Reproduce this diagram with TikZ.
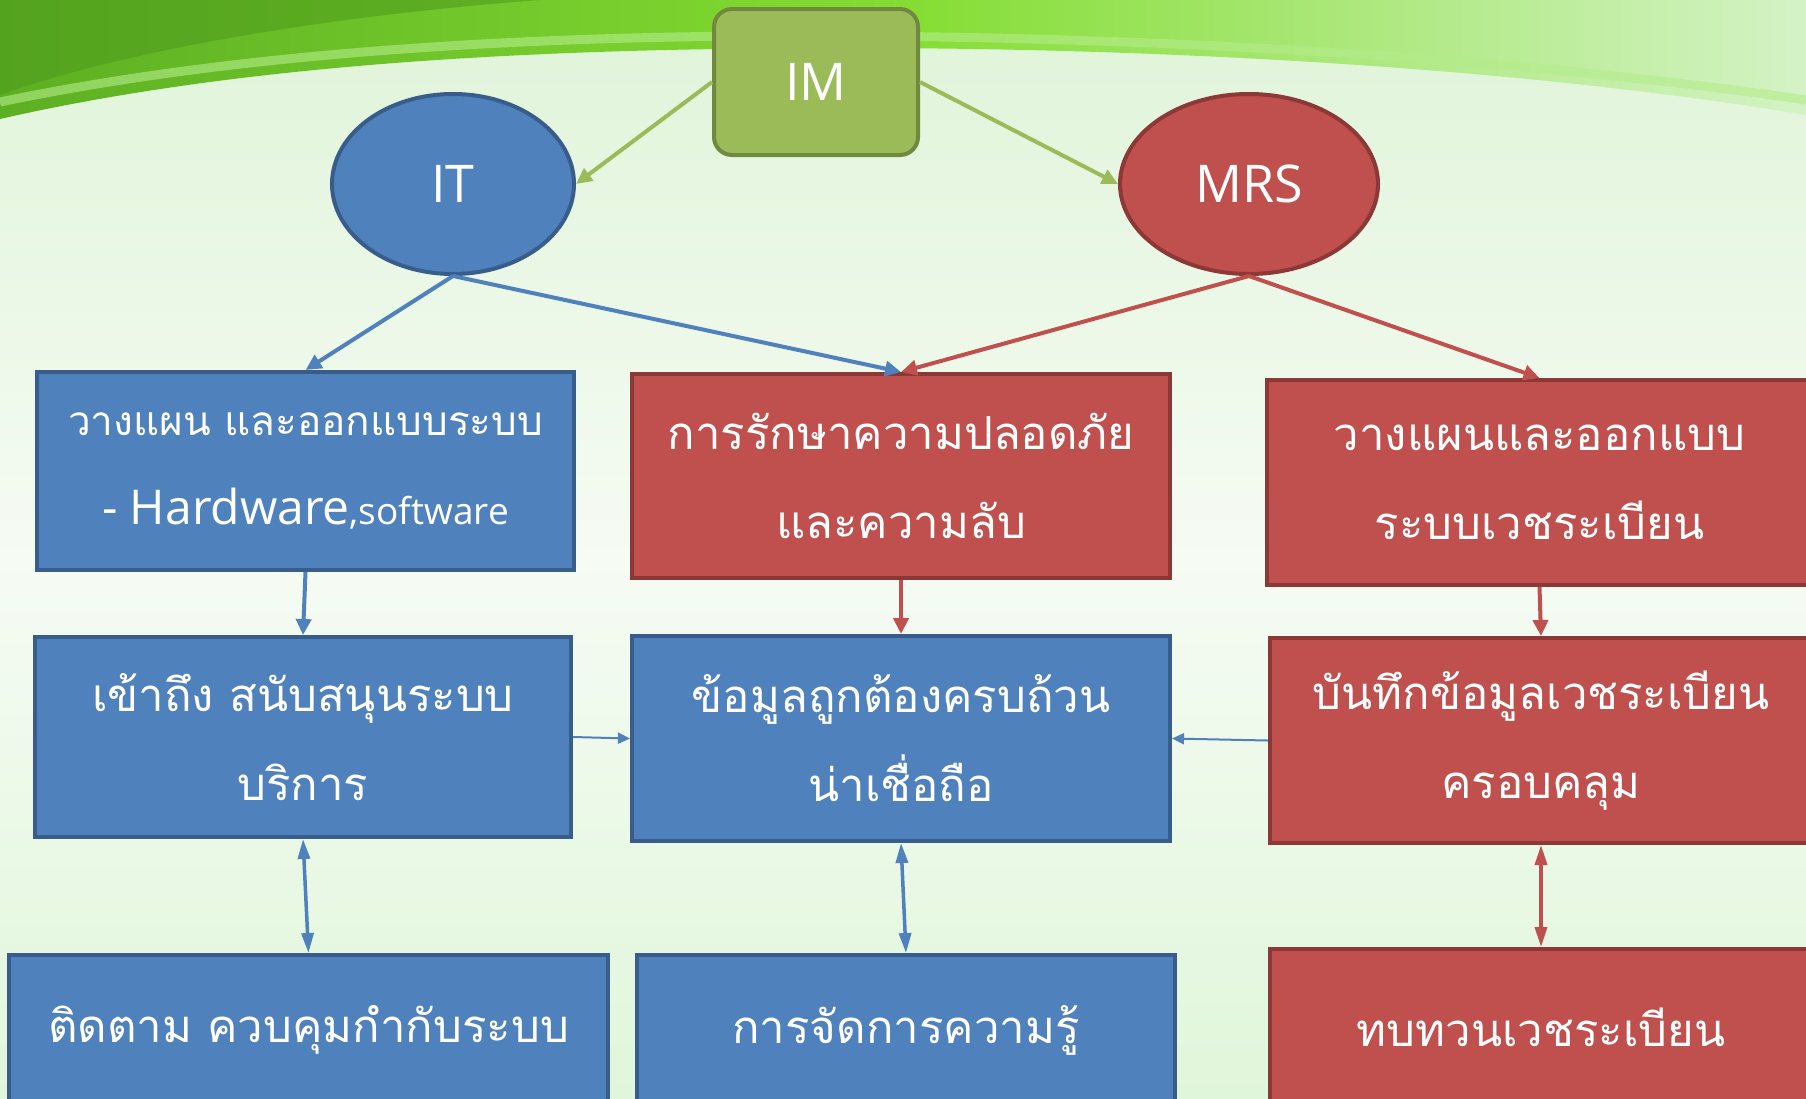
\documentclass[tikz,border=0pt]{standalone}
\usepackage{fontspec}
\newfontfamily\thaifont[Script=Thai]{Loma}
\newfontfamily\latfont{Open Sans}
\usetikzlibrary{arrows.meta,shapes.geometric}
\definecolor{bfill}{HTML}{4F81BD}
\definecolor{bline}{HTML}{385D8A}
\definecolor{rfill}{HTML}{C0504D}
\definecolor{rline}{HTML}{8C3836}
\definecolor{gfill}{HTML}{9BBB59}
\definecolor{gline}{HTML}{71893F}
\definecolor{bgtop}{HTML}{DFF4D8}
\definecolor{bgmid}{HTML}{F6FBF4}
\definecolor{bgbot}{HTML}{E0F6DA}
\definecolor{swA}{HTML}{5DAF22}
\definecolor{swB}{HTML}{84DD32}
\definecolor{swC}{HTML}{D4F3C6}
\definecolor{swDark}{HTML}{4E9A1C}
\definecolor{swHi}{HTML}{B4EC8A}
\tikzset{
  boxb/.style={rectangle, fill=bfill, draw=bline, line width=4pt, text=white,
    align=center, inner sep=0pt, font=\thaifont\fontsize{45.5}{89}\selectfont},
  boxr/.style={boxb, fill=rfill, draw=rline},
  ellb/.style={ellipse, fill=bfill, draw=bline, line width=4pt, text=white,
    inner sep=0pt, font=\latfont\fontsize{52}{60}\selectfont},
  ellr/.style={ellb, fill=rfill, draw=rline},
  imbox/.style={rectangle, rounded corners=18pt, fill=gfill, draw=gline, line width=4pt,
    text=white, inner sep=0pt, font=\latfont\fontsize{52}{60}\selectfont},
  cong/.style={draw=gfill, line width=4pt, -{Triangle[length=16pt,width=15pt]}},
  conb/.style={draw=bfill, line width=4pt, -{Triangle[length=16pt,width=15pt]}},
  conr/.style={draw=rfill, line width=4pt, -{Triangle[length=16pt,width=15pt]}},
  thinb/.style={draw=bfill, line width=2pt, -{Triangle[length=12pt,width=11pt]}},
  dblb/.style={draw=bfill, line width=3.5pt, {Triangle[length=20pt,width=12pt]}-{Triangle[length=20pt,width=12pt]}},
  dblr/.style={draw=rfill, line width=3.5pt, {Triangle[length=20pt,width=12pt]}-{Triangle[length=20pt,width=12pt]}},
}
\begin{document}
\begin{tikzpicture}[x=1pt,y=-1pt]
\useasboundingbox (0,0) rectangle (1806,1098);
% background
\shade[top color=bgtop, bottom color=bgmid] (0,0) rectangle (1806,560);
\shade[top color=bgmid, bottom color=bgbot] (0,560) rectangle (1806,1098);
\shade[left color=swA, right color=swC, middle color=swB]
  (0,0) -- (1806,0) -- (1806,115)
  .. controls (1550,72) and (1200,48) .. (850,48)
  .. controls (550,48) and (250,62) .. (0,119) -- cycle;
\fill[swDark, opacity=0.55] (0,0) -- (540,0) .. controls (340,15) and (130,48) .. (0,95) -- cycle;
\draw[swHi, line width=9pt, opacity=0.6] (0,102) .. controls (250,50) and (550,34) .. (850,36)
  .. controls (1200,38) and (1550,62) .. (1806,100);
% nodes
\node[imbox, minimum width=204pt, minimum height=146pt] (im) at (816,82) {IM};
\node[ellb, minimum width=242pt, minimum height=180pt] (it) at (453,184) {IT};
\node[ellr, minimum width=258pt, minimum height=180pt] (mrs) at (1249,184) {MRS};
\node[boxb, minimum width=537pt, minimum height=198pt] (a) at (305.5,471)
  {{\fontsize{40.5}{89}\selectfont วางแผน และออกแบบระบบ}\\{\latfont\fontsize{48}{89}\selectfont - Hardware}{\latfont\fontsize{37}{89}\selectfont ,software}};
\node[boxr, minimum width=538pt, minimum height=204pt] (b) at (901,476)
  {การรักษาความปลอดภัย\\และความลับ};
\node[boxr, minimum width=545pt, minimum height=205pt] (c) at (1539.5,482.5)
  {วางแผนและออกแบบ\\ระบบเวชระเบียน};
\node[boxb, minimum width=536pt, minimum height=200pt] (d) at (303,737)
  {เข้าถึง สนับสนุนระบบ\\บริการ};
\node[boxb, minimum width=538pt, minimum height=205pt] (e) at (901,738.5)
  {ข้อมูลถูกต้องครบถ้วน\\น่าเชื่อถือ};
\node[boxr, minimum width=542pt, minimum height=205pt] (f) at (1541,740.5)
  {บันทึกข้อมูลเวชระเบียน\\ครอบคลุม};
\node[boxb, minimum width=599pt, minimum height=150pt] (g) at (308.5,1030)
  {ติดตาม ควบคุมกำกับระบบ};
\node[boxb, minimum width=538pt, minimum height=150pt] (h) at (906,1030)
  {การจัดการความรู้};
\node[boxr, minimum width=542pt, minimum height=156pt] (i) at (1541,1027)
  {ทบทวนเวชระเบียน};
% connectors
\draw[cong] (im.west) -- (it.east);
\draw[cong] (im.east) -- (mrs.west);
\draw[conb] (it.south) -- (a.north);
\draw[conb] (it.south) -- (b.north);
\draw[conr] (mrs.south) -- (b.north);
\draw[conr] (mrs.south) -- (c.north);
\draw[conb] (a.south) -- (d.north);
\draw[conr] (b.south) -- (e.north);
\draw[conr] (c.south) -- (f.north);
\draw[thinb] (d.east) -- (e.west);
\draw[thinb] (f.west) -- (e.east);
\draw[dblb] (d.south) -- (g.north);
\draw[dblb] (e.south) -- (h.north);
\draw[dblr] (f.south) -- (i.north);
\end{tikzpicture}
\end{document}
